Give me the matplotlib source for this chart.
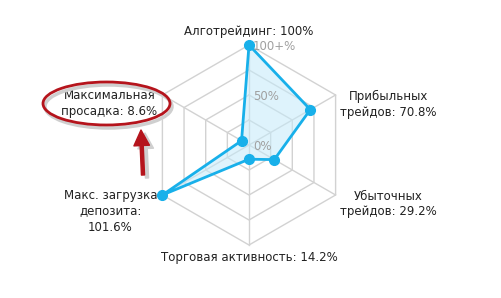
import numpy as np
import matplotlib
matplotlib.use("Agg")
import matplotlib.pyplot as plt
from matplotlib.patches import Ellipse
from matplotlib.transforms import IdentityTransform

# Data
labels = ["Алготрейдинг: 100%",
          "Прибыльных\nтрейдов: 70.8%",
          "Убыточных\nтрейдов: 29.2%",
          "Торговая активность: 14.2%",
          "Макс. загрузка\nдепозита:\n101.6%",
          "Максимальная\nпросадка: 8.6%"]
values = [100, 70.8, 29.2, 14.2, 101.6, 8.6]
rings = [25, 50, 75, 100]
tick_labels = {100: "100+%", 50: "50%", 0: "0%"}

# label offsets from the outer vertex, in pixels
label_offsets = [(0, 13), (53, -9), (53, -9), (0, -12), (-52, -16), (-53, -9)]

W, H = 501, 298
fig = plt.figure(figsize=(W / 100, H / 100), dpi=100)
fig.patch.set_facecolor("white")

cx, cy, R = 249, 145, 100
ax = fig.add_axes([(cx - R) / W, (H - cy - R) / H, 2 * R / W, 2 * R / H],
                  projection="polar")
ax.set_theta_offset(np.pi / 2)
ax.set_theta_direction(-1)
ax.set_ylim(0, 100)
ax.axis("off")

n = len(values)
theta = np.arange(n) * 2 * np.pi / n
theta_c = np.append(theta, theta[0])

grid_col = "#d2d2d2"
for r in rings:
    ax.plot(theta_c, [r] * (n + 1), color=grid_col, lw=1, zorder=1, clip_on=False)
for t in theta:
    ax.plot([t, t], [0, 100], color=grid_col, lw=1, zorder=1, clip_on=False)

r_plot = np.minimum(values, 100)
r_c = np.append(r_plot, r_plot[0])
line_col = "#18b0ea"
ax.fill(theta_c, r_c, color="#c4eafa", alpha=0.55, lw=0, zorder=2)
ax.plot(theta_c, r_c, color=line_col, lw=2, zorder=3, clip_on=False)
ax.plot(theta, r_plot, "o", color=line_col, ms=7, zorder=4, clip_on=False)

for r, s in tick_labels.items():
    ax.annotate(s, xy=(0, r), xytext=(4, -2), textcoords="offset pixels",
                ha="left", va="center", fontsize=8.5, color="#a0a0a0", zorder=5)

for t, lab, off in zip(theta, labels, label_offsets):
    ax.annotate(lab, xy=(t, 100), xytext=off, textcoords="offset pixels",
                ha="center", va="center", multialignment="center",
                fontsize=8.5, color="#222222", linespacing=1.3,
                annotation_clip=False)

# red highlight around the drawdown label, with a soft shadow
red = "#b5141c"
ell_c, ell_w, ell_h = (106.5, H - 103.5), 127, 43
fig.add_artist(Ellipse((ell_c[0] + 2, ell_c[1] - 3), ell_w, ell_h,
                       transform=IdentityTransform(), fill=False,
                       ec="#cfcfcf", lw=2.5))
fig.add_artist(Ellipse(ell_c, ell_w, ell_h, transform=IdentityTransform(),
                       fill=False, ec=red, lw=2))

arrow_style = "simple,head_length=1.4,head_width=1.4,tail_width=0.28"
ax.annotate("", xy=(145, H - 133), xytext=(147, H - 178),
            xycoords="figure pixels", textcoords="figure pixels",
            arrowprops=dict(arrowstyle=arrow_style, color="#cfcfcf",
                            mutation_scale=8, shrinkA=0, shrinkB=0))
ax.annotate("", xy=(141, H - 130), xytext=(143, H - 175),
            xycoords="figure pixels", textcoords="figure pixels",
            arrowprops=dict(arrowstyle=arrow_style, color=red,
                            mutation_scale=8, shrinkA=0, shrinkB=0))

fig.savefig("out.png", dpi=100, facecolor="white")
